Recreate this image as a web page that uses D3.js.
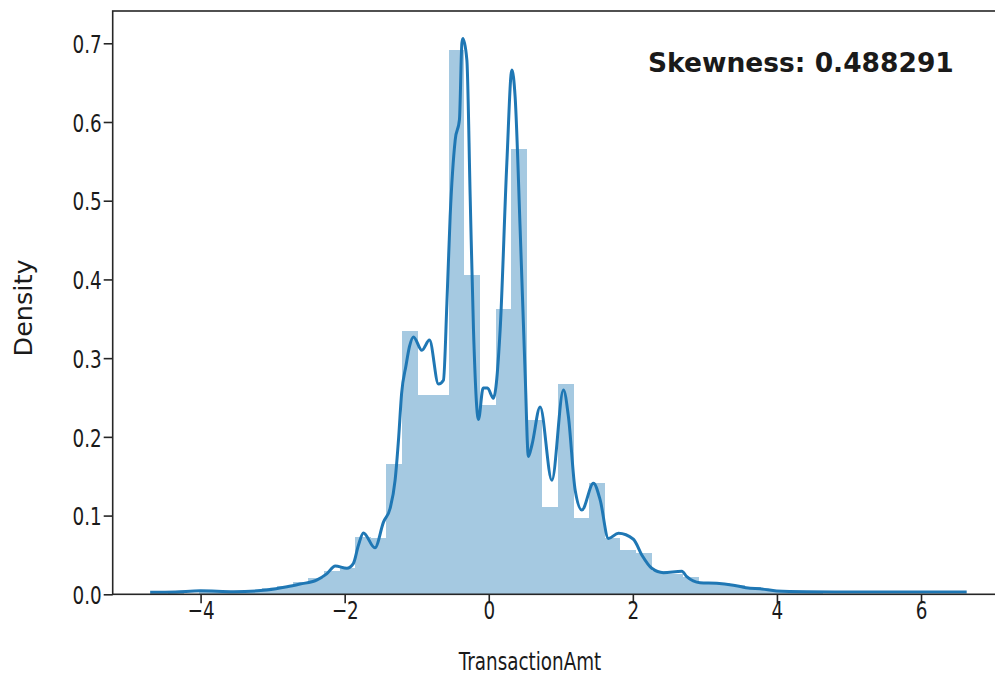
<!DOCTYPE html>
<html>
<head>
<meta charset="utf-8">
<script src="https://cdn.jsdelivr.net/npm/d3@7"></script>
<style>
  html, body { margin: 0; padding: 0; background: #fff; }
  svg { display: block; }
  text { font-family: "DejaVu Sans", sans-serif; fill: #1a1a1a; }
</style>
</head>
<body>
<svg id="chart" width="995" height="675"></svg>
<script>
// Histogram of standardized TransactionAmt: 50 equal-width bins
const histStart = -4.453;
const binWidth = 0.2166;
const binDensity = [
  0.002, 0.001, 0.003, 0.003, 0.004, 0.006, 0.008, 0.011, 0.015, 0.021,
  0.030, 0.034, 0.073, 0.071, 0.166, 0.334, 0.253, 0.253, 0.691, 0.405,
  0.240, 0.362, 0.566, 0.221, 0.111, 0.267, 0.097, 0.141, 0.072, 0.056,
  0.052, 0.030, 0.026, 0.022, 0.015, 0.014, 0.012, 0.009, 0.006, 0.004,
  0.002, 0.002, 0.001, 0.001, 0.001, 0.001, 0.001, 0.001, 0.001, 0.001
];

// Kernel density estimate (x, density)
const kdeX = [
  -4.70, -4.35, -4.00, -3.54, -3.08, -2.80, -2.62, -2.39, -2.25, -2.13,
  -1.97, -1.88, -1.81, -1.74, -1.58, -1.46, -1.37, -1.30, -1.25, -1.21,
  -1.15, -1.10, -1.045, -0.928, -0.823, -0.698, -0.629, -0.581, -0.536, -0.466,
  -0.407, -0.373, -0.359, -0.304, -0.258, -0.212, -0.143, -0.078, -0.018, 0.065,
  0.158, 0.251, 0.321, 0.366, 0.436, 0.505, 0.55, 0.60, 0.713, 0.876,
  1.037, 1.106, 1.199, 1.292, 1.453, 1.546, 1.661, 1.80, 2.008, 2.124,
  2.263, 2.424, 2.679, 2.749, 2.933, 3.165, 3.395, 3.627, 3.766, 3.997,
  4.414, 5.015, 5.708, 6.634
];
const kdeY = [
  0.0025, 0.003, 0.0045, 0.0033, 0.0055, 0.0095, 0.013, 0.018, 0.026, 0.036,
  0.033, 0.039, 0.062, 0.078, 0.059, 0.092, 0.109, 0.145, 0.200, 0.255,
  0.290, 0.315, 0.327, 0.310, 0.323, 0.267, 0.272, 0.370, 0.480, 0.577,
  0.603, 0.700, 0.706, 0.679, 0.505, 0.336, 0.222, 0.262, 0.262, 0.249,
  0.336, 0.548, 0.666, 0.632, 0.463, 0.280, 0.175, 0.190, 0.238, 0.145,
  0.2596, 0.2256, 0.1325, 0.107, 0.141, 0.120, 0.071, 0.0775, 0.0699, 0.050,
  0.033, 0.0275, 0.0293, 0.0224, 0.0147, 0.014, 0.0116, 0.0076, 0.0071, 0.0042,
  0.0033, 0.003, 0.003, 0.003
];

const xTicks = [-4, -2, 0, 2, 4, 6];
const yTicks = [0.0, 0.1, 0.2, 0.3, 0.4, 0.5, 0.6, 0.7];
const skewness = 0.488291;

const svg = d3.select("#chart");
const plotLeft = 112.7, plotRight = 1005.3, plotTop = 11, plotBottom = 594.3;

const x = d3.scaleLinear().domain([-5.22, 7.17]).range([plotLeft, plotRight]);
const y = d3.scaleLinear().domain([0, 0.741]).range([plotBottom, plotTop]);

const blue = "#1f77b4";
const ink = "#262626";
const labelSize = 25.5;   // axis text size
const squeeze = 0.72;     // horizontal compression of horizontal axis text

// bars
const bins = binDensity.map((d, i) => ({
  x0: histStart + i * binWidth,
  x1: histStart + (i + 1) * binWidth,
  v: d
}));
svg.append("g")
  .selectAll("rect")
  .data(bins)
  .join("rect")
  .attr("x", d => x(d.x0))
  .attr("width", d => x(d.x1) - x(d.x0))
  .attr("y", d => y(d.v))
  .attr("height", d => y(0) - y(d.v))
  .attr("fill", blue)
  .attr("fill-opacity", 0.4)
  .attr("shape-rendering", "crispEdges");

// kde line
const pts = kdeX.map((v, i) => [v, kdeY[i]]);
svg.append("path")
  .datum(pts)
  .attr("fill", "none")
  .attr("stroke", blue)
  .attr("stroke-width", 3)
  .attr("stroke-linejoin", "round")
  .attr("stroke-linecap", "butt")
  .attr("d", d3.line().x(d => x(d[0])).y(d => y(d[1])).curve(d3.curveMonotoneX));

// axes
const fmtX = d => (d < 0 ? "\u2212" + Math.abs(d) : String(d));
const xAxis = d3.axisBottom(x).tickValues(xTicks).tickFormat(fmtX).tickSize(9);
const yAxis = d3.axisLeft(y).tickValues(yTicks).tickFormat(d3.format(".1f")).tickSize(9);

const gx = svg.append("g").attr("transform", `translate(0,${plotBottom})`).call(xAxis);
const gy = svg.append("g").attr("transform", `translate(${plotLeft},0)`).call(yAxis);
[gx, gy].forEach(g => {
  g.select(".domain").remove();
  g.selectAll(".tick line").attr("stroke", ink).attr("stroke-width", 1.6);
  g.selectAll(".tick text")
    .attr("font-size", labelSize).attr("fill", ink)
    .style("font-family", "'DejaVu Sans', sans-serif");
});
gx.selectAll(".tick text")
  .attr("y", 0).attr("dy", null)
  .attr("transform", `translate(0,25) scale(${squeeze},1)`);
gy.selectAll(".tick text")
  .attr("x", 0).attr("dy", "0.36em")
  .attr("transform", `translate(-11,0) scale(${squeeze},1)`);

// frame
svg.append("rect")
  .attr("x", plotLeft).attr("y", plotTop)
  .attr("width", plotRight - plotLeft).attr("height", plotBottom - plotTop)
  .attr("fill", "none").attr("stroke", ink).attr("stroke-width", 1.6);

// axis titles
svg.append("text")
  .attr("transform", `translate(530,670) scale(${squeeze},1)`)
  .attr("text-anchor", "middle").attr("font-size", labelSize).attr("fill", ink)
  .text("TransactionAmt");
svg.append("text")
  .attr("transform", "translate(32,308) rotate(-90)")
  .attr("text-anchor", "middle").attr("font-size", labelSize).attr("fill", ink)
  .text("Density");

// annotation
svg.append("text")
  .attr("x", 648).attr("y", 72)
  .attr("font-size", 26.5).attr("font-weight", "bold").attr("fill", "#111")
  .text("Skewness: " + skewness.toFixed(6));
</script>
</body>
</html>
